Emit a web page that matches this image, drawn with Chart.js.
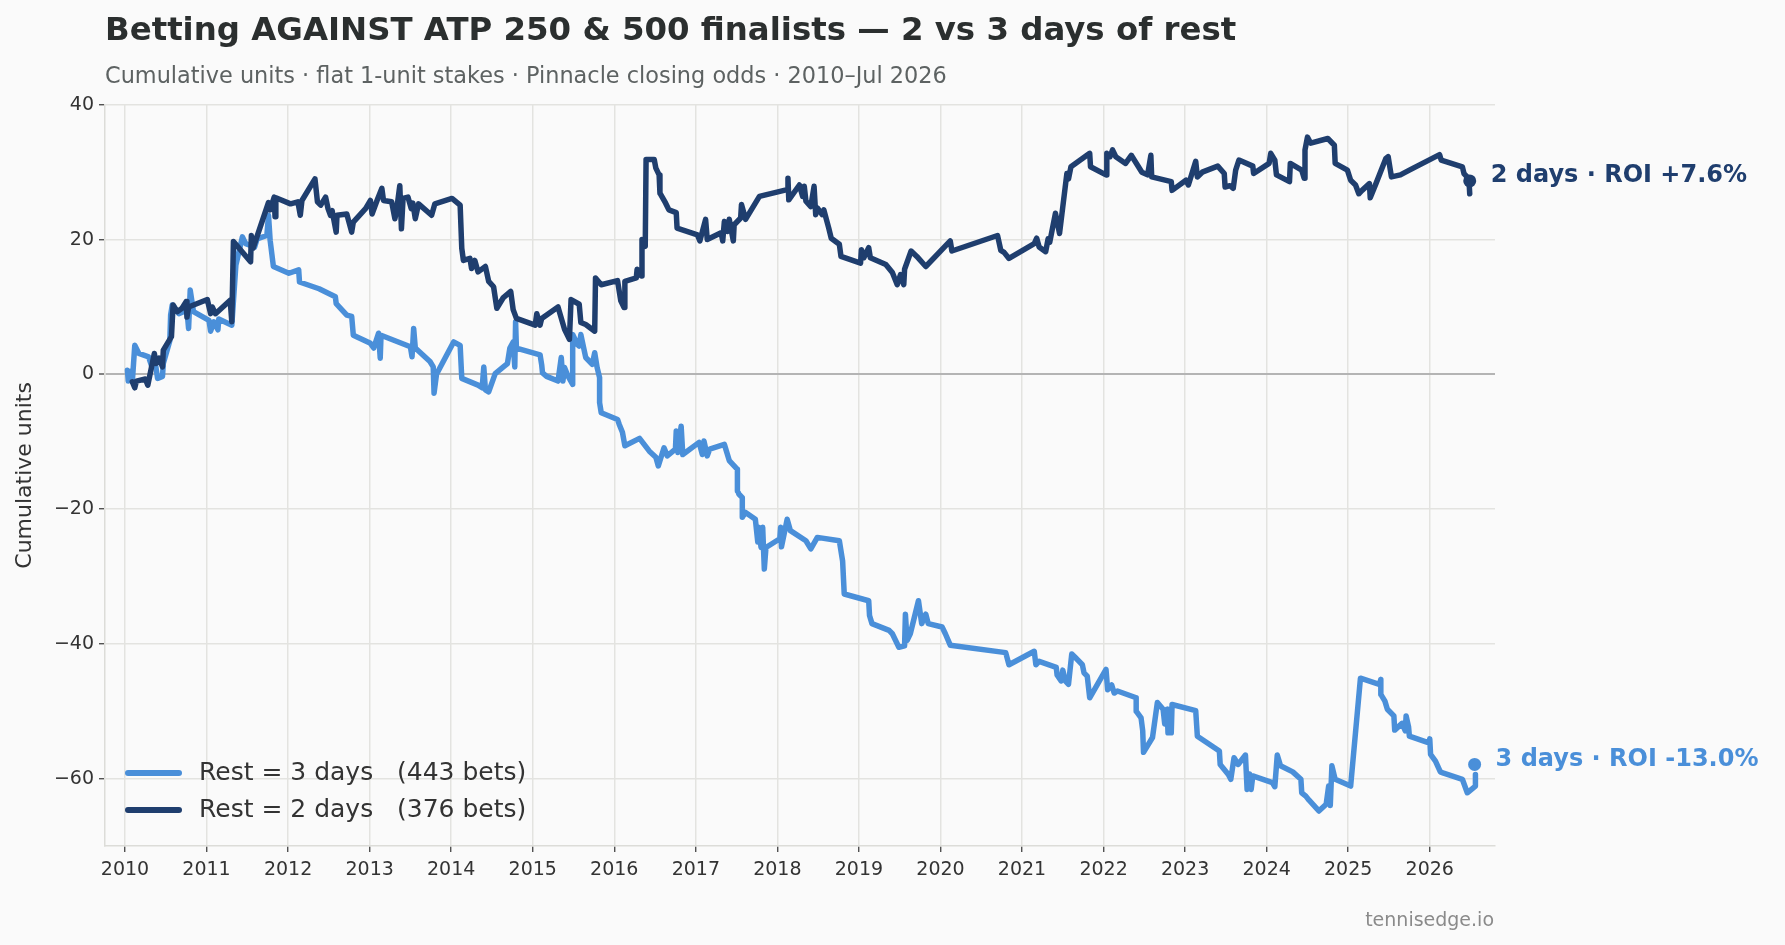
<!DOCTYPE html>
<html>
<head>
<meta charset="utf-8">
<script src="https://cdn.jsdelivr.net/npm/chart.js@4.4.1/dist/chart.umd.min.js"></script>
<style>
  html, body { margin: 0; padding: 0; background: #fafafa; }
  canvas { display: block; }
</style>
</head>
<body>
<canvas id="chartRest" width="1785" height="945"></canvas>
<script>
// cumulative units, x = decimal year
const threeDaysX = [
  2010.03, 2010.04, 2010.07, 2010.09, 2010.12, 2010.17, 2010.29, 2010.33, 2010.36, 2010.40,
  2010.46, 2010.47, 2010.55, 2010.56, 2010.58, 2010.66, 2010.76, 2010.78, 2010.80, 2010.84,
  2011.03, 2011.05, 2011.09, 2011.14, 2011.15, 2011.31, 2011.36, 2011.44, 2011.48, 2011.59,
  2011.62, 2011.74, 2011.76, 2011.78, 2011.82, 2012.01, 2012.13, 2012.14, 2012.38, 2012.58,
  2012.59, 2012.72, 2012.78, 2012.80, 2013.01, 2013.05, 2013.11, 2013.13, 2013.14, 2013.50,
  2013.52, 2013.54, 2013.56, 2013.74, 2013.78, 2013.79, 2013.82, 2014.03, 2014.11, 2014.13,
  2014.33, 2014.38, 2014.40, 2014.42, 2014.46, 2014.54, 2014.64, 2014.69, 2014.72, 2014.76,
  2014.78, 2014.79, 2014.80, 2015.09, 2015.11, 2015.12, 2015.17, 2015.31, 2015.35, 2015.37,
  2015.39, 2015.43, 2015.49, 2015.49, 2015.55, 2015.57, 2015.59, 2015.65, 2015.73, 2015.76,
  2015.79, 2015.82, 2015.82, 2015.84, 2016.04, 2016.06, 2016.10, 2016.13, 2016.31, 2016.43,
  2016.51, 2016.54, 2016.61, 2016.65, 2016.75, 2016.76, 2016.78, 2016.82, 2016.84, 2017.04,
  2017.08, 2017.10, 2017.14, 2017.17, 2017.35, 2017.41, 2017.51, 2017.51, 2017.53, 2017.57,
  2017.57, 2017.61, 2017.73, 2017.76, 2017.77, 2017.80, 2017.82, 2017.84, 2017.86, 2018.03,
  2018.04, 2018.05, 2018.10, 2018.12, 2018.16, 2018.35, 2018.41, 2018.49, 2018.76, 2018.80,
  2018.82, 2019.12, 2019.13, 2019.16, 2019.37, 2019.41, 2019.49, 2019.56, 2019.57, 2019.59,
  2019.63, 2019.73, 2019.77, 2019.82, 2019.85, 2020.02, 2020.06, 2020.12, 2020.80, 2020.84,
  2021.15, 2021.17, 2021.21, 2021.42, 2021.43, 2021.48, 2021.50, 2021.53, 2021.57, 2021.61,
  2021.66, 2021.74, 2021.76, 2021.80, 2021.83, 2022.03, 2022.05, 2022.10, 2022.13, 2022.17,
  2022.40, 2022.40, 2022.46, 2022.48, 2022.49, 2022.60, 2022.66, 2022.73, 2022.75, 2022.78,
  2022.79, 2022.83, 2022.84, 2023.13, 2023.15, 2023.42, 2023.43, 2023.53, 2023.56, 2023.60,
  2023.65, 2023.74, 2023.76, 2023.79, 2023.81, 2023.83, 2024.07, 2024.10, 2024.13, 2024.17,
  2024.32, 2024.42, 2024.43, 2024.48, 2024.52, 2024.64, 2024.73, 2024.76, 2024.78, 2024.80,
  2024.84, 2025.03, 2025.15, 2025.38, 2025.40, 2025.40, 2025.45, 2025.48, 2025.56, 2025.57,
  2025.66, 2025.70, 2025.71, 2025.74, 2025.75, 2025.99, 2026.00, 2026.01, 2026.07, 2026.13,
  2026.17, 2026.40, 2026.46, 2026.56, 2026.56
];
const threeDaysY = [
  0.6, -1.0, 0.4, -1.1, 4.3, 3.1, 2.6, 1.1, 2.6, -0.6,
  -0.3, 1.6, 5.0, 8.8, 10.3, 9.0, 9.5, 6.8, 12.5, 9.3,
  8.0, 6.4, 7.8, 6.6, 8.2, 7.3, 16.2, 20.4, 19.4, 18.9,
  20.1, 20.6, 23.6, 19.9, 16.0, 15.0, 15.5, 13.7, 12.7, 11.5,
  10.5, 8.8, 8.6, 5.8, 4.6, 3.9, 6.1, 2.4, 5.8, 4.1,
  2.6, 6.8, 3.9, 1.9, 1.1, -2.8, 0.0, 4.8, 4.3, -0.6,
  -1.6, -2.0, 1.1, -2.3, -2.6, 0.1, 1.1, 1.6, 3.9, 4.8,
  1.1, 7.8, 3.9, 2.9, 1.4, 0.2, -0.3, -1.0, 2.5, -1.0,
  1.0, -0.2, -1.5, 5.9, 4.4, 4.2, 5.9, 2.5, 1.5, 3.2,
  1.0, -0.5, -4.2, -5.7, -6.7, -7.4, -8.6, -10.6, -9.5, -11.4,
  -12.3, -13.6, -10.9, -12.1, -11.1, -8.4, -11.6, -7.7, -11.9, -10.1,
  -11.9, -9.9, -12.1, -11.1, -10.4, -12.8, -14.1, -17.3, -17.8, -18.3,
  -21.2, -20.5, -21.5, -24.9, -22.7, -25.7, -22.7, -28.9, -25.7, -24.4,
  -22.7, -25.6, -22.7, -21.5, -23.2, -24.7, -25.9, -24.2, -24.7, -27.7,
  -32.6, -33.6, -35.8, -37.0, -38.0, -38.5, -40.5, -40.3, -35.6, -39.5,
  -38.5, -33.6, -37.0, -35.6, -37.0, -37.5, -38.5, -40.2, -41.3, -43.1,
  -41.1, -43.1, -42.6, -43.5, -44.6, -45.5, -43.9, -45.5, -46.0, -41.5,
  -42.1, -43.1, -44.3, -44.8, -48.0, -43.8, -46.8, -46.1, -47.3, -47.0,
  -48.0, -50.0, -51.0, -52.9, -56.1, -53.9, -48.7, -49.7, -51.9, -49.7,
  -53.2, -53.2, -49.0, -49.9, -53.7, -55.9, -57.9, -59.4, -60.1, -56.9,
  -57.9, -56.5, -61.6, -59.3, -61.6, -59.6, -60.6, -61.2, -56.5, -58.1,
  -59.0, -60.1, -62.1, -62.6, -63.2, -64.8, -63.8, -61.1, -64.0, -58.1,
  -60.1, -61.1, -45.1, -46.0, -45.3, -47.5, -48.5, -49.7, -50.7, -52.8,
  -51.8, -52.9, -50.7, -52.3, -53.7, -54.7, -54.1, -56.4, -57.4, -59.0,
  -59.2, -60.1, -62.1, -61.1, -59.4
];

const twoDaysX = [
  2010.09, 2010.12, 2010.14, 2010.25, 2010.28, 2010.36, 2010.38, 2010.42, 2010.46, 2010.47,
  2010.57, 2010.59, 2010.64, 2010.70, 2010.75, 2010.76, 2010.78, 2011.01, 2011.05, 2011.07,
  2011.11, 2011.29, 2011.31, 2011.33, 2011.54, 2011.55, 2011.57, 2011.76, 2011.78, 2011.83,
  2011.84, 2011.85, 2012.03, 2012.12, 2012.15, 2012.17, 2012.33, 2012.36, 2012.40, 2012.46,
  2012.49, 2012.52, 2012.54, 2012.59, 2012.60, 2012.72, 2012.78, 2012.80, 2012.95, 2013.01,
  2013.03, 2013.10, 2013.15, 2013.17, 2013.27, 2013.31, 2013.33, 2013.37, 2013.39, 2013.41,
  2013.47, 2013.51, 2013.53, 2013.56, 2013.60, 2013.76, 2013.80, 2014.01, 2014.11, 2014.13,
  2014.15, 2014.23, 2014.25, 2014.29, 2014.33, 2014.42, 2014.46, 2014.52, 2014.56, 2014.64,
  2014.73, 2014.76, 2014.80, 2015.03, 2015.05, 2015.09, 2015.11, 2015.31, 2015.39, 2015.45,
  2015.47, 2015.57, 2015.59, 2015.65, 2015.76, 2015.77, 2015.84, 2016.04, 2016.08, 2016.12,
  2016.13, 2016.27, 2016.28, 2016.33, 2016.34, 2016.38, 2016.39, 2016.49, 2016.51, 2016.55,
  2016.56, 2016.63, 2016.67, 2016.76, 2016.77, 2017.02, 2017.05, 2017.12, 2017.14, 2017.31,
  2017.33, 2017.35, 2017.39, 2017.41, 2017.46, 2017.47, 2017.55, 2017.56, 2017.61, 2017.78,
  2018.12, 2018.13, 2018.14, 2018.27, 2018.31, 2018.33, 2018.35, 2018.41, 2018.45, 2018.47,
  2018.49, 2018.55, 2018.57, 2018.63, 2018.66, 2018.76, 2018.78, 2019.02, 2019.03, 2019.06,
  2019.12, 2019.14, 2019.33, 2019.41, 2019.47, 2019.51, 2019.55, 2019.56, 2019.64, 2019.71,
  2019.82, 2020.12, 2020.14, 2020.70, 2020.74, 2020.78, 2020.84, 2021.15, 2021.18, 2021.21,
  2021.29, 2021.32, 2021.34, 2021.41, 2021.46, 2021.55, 2021.57, 2021.60, 2021.83, 2021.84,
  2022.03, 2022.04, 2022.08, 2022.11, 2022.15, 2022.27, 2022.34, 2022.47, 2022.54, 2022.58,
  2022.59, 2022.83, 2022.84, 2023.01, 2023.04, 2023.13, 2023.15, 2023.21, 2023.40, 2023.48,
  2023.49, 2023.55, 2023.59, 2023.62, 2023.66, 2023.83, 2023.84, 2024.03, 2024.05, 2024.10,
  2024.12, 2024.28, 2024.29, 2024.43, 2024.46, 2024.47, 2024.50, 2024.54, 2024.75, 2024.83,
  2024.84, 2024.99, 2025.03, 2025.09, 2025.13, 2025.17, 2025.26, 2025.27, 2025.34, 2025.46,
  2025.49, 2025.53, 2025.64, 2025.75, 2026.12, 2026.14, 2026.40, 2026.42, 2026.48, 2026.49
];
const twoDaysY = [
  -1.1, -2.0, -1.0, -0.7, -1.6, 3.1, 1.6, 2.4, 1.1, 3.6,
  5.6, 10.3, 9.3, 9.8, 10.8, 8.5, 10.0, 11.1, 9.0, 10.0,
  9.0, 11.0, 7.8, 19.7, 16.7, 20.6, 18.7, 25.5, 24.4, 26.3,
  23.4, 26.2, 25.3, 25.6, 23.6, 25.8, 29.0, 25.6, 25.1, 26.3,
  24.6, 23.6, 24.3, 21.1, 23.6, 23.8, 21.1, 22.6, 24.6, 25.8,
  23.8, 26.1, 27.6, 25.8, 25.6, 23.1, 24.3, 28.0, 21.6, 26.1,
  26.3, 24.6, 25.4, 23.1, 25.3, 23.6, 25.3, 26.1, 25.1, 18.7,
  16.9, 17.2, 15.7, 16.9, 15.2, 16.0, 13.8, 13.0, 9.8, 11.4,
  12.3, 9.6, 8.3, 7.3, 9.0, 7.3, 8.3, 10.0, 6.7, 5.2,
  11.1, 10.4, 7.7, 7.4, 6.4, 14.3, 13.3, 13.9, 10.9, 9.9,
  13.8, 14.3, 15.6, 14.6, 20.0, 19.0, 31.9, 31.9, 30.6, 29.6,
  26.9, 25.4, 24.4, 24.0, 21.7, 20.7, 19.8, 23.0, 20.0, 21.0,
  19.8, 22.7, 21.2, 23.0, 19.8, 22.2, 23.2, 25.2, 23.0, 26.4,
  27.4, 29.1, 25.9, 28.1, 26.4, 27.9, 25.7, 24.9, 27.9, 23.7,
  24.7, 23.7, 24.4, 21.7, 20.2, 19.3, 17.5, 16.5, 18.5, 17.3,
  18.8, 17.3, 16.3, 15.1, 13.3, 14.8, 13.3, 15.6, 18.3, 17.5,
  16.0, 19.8, 18.3, 20.6, 18.4, 18.1, 17.2, 19.4, 20.2, 18.9,
  18.2, 20.1, 19.6, 23.9, 20.9, 29.8, 29.0, 30.8, 32.8, 30.8,
  29.6, 32.8, 32.3, 33.3, 32.3, 31.3, 32.5, 30.0, 29.6, 32.5,
  29.3, 28.6, 27.3, 28.8, 28.1, 31.6, 29.3, 30.0, 30.9, 29.8,
  27.8, 28.0, 27.6, 30.3, 31.8, 30.9, 29.8, 31.3, 32.8, 31.8,
  29.6, 28.6, 31.3, 30.3, 29.1, 33.3, 35.2, 34.3, 35.0, 34.0,
  31.3, 30.3, 28.8, 28.1, 26.8, 27.3, 28.3, 26.2, 28.3, 32.0,
  32.3, 29.3, 29.6, 30.3, 32.6, 31.8, 30.8, 29.8, 29.0, 26.8
];

// final markers and their captions
const endX = [2026.49, 2026.55];
const endY = [28.7, -57.9];
const endLabels = ['2 days \u00b7 ROI +7.6%', '3 days \u00b7 ROI -13.0%'];
const legendLabels = ['Rest = 3 days   (443 bets)', 'Rest = 2 days   (376 bets)'];

const yearTicks = [2010, 2011, 2012, 2013, 2014, 2015, 2016, 2017, 2018,
  2019, 2020, 2021, 2022, 2023, 2024, 2025, 2026];
const unitTicks = [-60, -40, -20, 0, 20, 40];

const LIGHT = '#4a8fd9';
const DARK = '#1f3e6e';
const FONT = '"DejaVu Sans", sans-serif';

const toPoints = (xs, ys) => xs.map((x, i) => ({ x: x, y: ys[i] }));

const decor = {
  id: 'decor',
  beforeDraw(chart) {
    const c = chart.ctx;
    c.save();
    c.fillStyle = '#fafafa';
    c.fillRect(0, 0, chart.width, chart.height);
    c.restore();
  },
  afterDraw(chart) {
    const c = chart.ctx;
    const xs = chart.scales.x;
    const ys = chart.scales.y;
    const area = chart.chartArea;
    c.save();
    c.textBaseline = 'middle';
    c.textAlign = 'left';

    c.fillStyle = '#2b2f2f';
    c.font = 'bold 32.4px ' + FONT;
    c.fillText('Betting AGAINST ATP 250 & 500 finalists \u2014 2 vs 3 days of rest', 105, 32);

    c.fillStyle = '#5d6262';
    c.font = '22.4px ' + FONT;
    c.fillText('Cumulative units \u00b7 flat 1-unit stakes \u00b7 Pinnacle closing odds \u00b7 2010\u2013Jul 2026', 105, 77);

    // y axis title
    c.save();
    c.translate(25, (area.top + area.bottom) / 2);
    c.rotate(-Math.PI / 2);
    c.textAlign = 'center';
    c.fillStyle = '#333333';
    c.font = '22px ' + FONT;
    c.fillText('Cumulative units', 0, 0);
    c.restore();

    // legend
    const legendColors = [LIGHT, DARK];
    const rows = [773, 810];
    c.font = '25px ' + FONT;
    legendLabels.forEach((txt, i) => {
      c.strokeStyle = legendColors[i];
      c.lineWidth = 6;
      c.lineCap = 'round';
      c.beginPath();
      c.moveTo(128, rows[i]);
      c.lineTo(179, rows[i]);
      c.stroke();
      c.fillStyle = '#333333';
      c.fillText(txt, 199, rows[i]);
    });

    // end captions
    const endColors = [DARK, LIGHT];
    c.font = 'bold 24px ' + FONT;
    endLabels.forEach((txt, i) => {
      c.fillStyle = endColors[i];
      c.fillText(txt, xs.getPixelForValue(endX[i]) + 21, ys.getPixelForValue(endY[i]) - 5);
    });

    c.fillStyle = '#8a8a8a';
    c.font = '19px ' + FONT;
    c.textAlign = 'right';
    c.fillText('tennisedge.io', 1494, 921);
    c.restore();
  }
};

const ctx = document.getElementById('chartRest').getContext('2d');
new Chart(ctx, {
  type: 'line',
  data: {
    datasets: [
      {
        data: [{ x: endX[0], y: endY[0] }],
        showLine: false,
        pointRadius: 6.5,
        pointBackgroundColor: DARK,
        pointBorderWidth: 0
      },
      {
        data: [{ x: endX[1], y: endY[1] }],
        showLine: false,
        pointRadius: 6.5,
        pointBackgroundColor: LIGHT,
        pointBorderWidth: 0
      },
      {
        label: legendLabels[1],
        data: toPoints(twoDaysX, twoDaysY),
        borderColor: DARK,
        borderWidth: 5.5,
        pointRadius: 0,
        tension: 0,
        borderJoinStyle: 'round',
        borderCapStyle: 'round'
      },
      {
        label: legendLabels[0],
        data: toPoints(threeDaysX, threeDaysY),
        borderColor: LIGHT,
        borderWidth: 5.5,
        pointRadius: 0,
        tension: 0,
        borderJoinStyle: 'round',
        borderCapStyle: 'round'
      }
    ]
  },
  options: {
    responsive: false,
    animation: false,
    devicePixelRatio: 1,
    layout: {
      padding: { left: 0, top: 104.8, right: 290, bottom: 0 }
    },
    plugins: {
      legend: { display: false },
      title: { display: false },
      tooltip: { enabled: false }
    },
    scales: {
      x: {
        type: 'linear',
        min: 2009.755,
        max: 2026.8,
        afterBuildTicks: (scale) => { scale.ticks = yearTicks.map(v => ({ value: v })); },
        afterFit: (scale) => { scale.height = 99; },
        grid: {
          color: '#e3e3e0',
          lineWidth: 1.5,
          tickColor: '#333333',
          tickLength: 6,
          tickWidth: 1.2
        },
        border: { color: '#dcdcd8', width: 1.5 },
        ticks: {
          color: '#333333',
          font: { family: FONT, size: 19 },
          padding: 7,
          maxRotation: 0,
          callback: (v) => String(v)
        }
      },
      y: {
        min: -70,
        max: 40,
        afterBuildTicks: (scale) => { scale.ticks = unitTicks.map(v => ({ value: v })); },
        afterFit: (scale) => { scale.width = 105; },
        grid: {
          color: (c) => (c.tick && c.tick.value === 0 ? '#b4b4b4' : '#e3e3e0'),
          lineWidth: (c) => (c.tick && c.tick.value === 0 ? 2 : 1.5),
          tickColor: '#333333',
          tickLength: 6,
          tickWidth: 1.2
        },
        border: { color: '#dcdcd8', width: 1.5 },
        ticks: {
          color: '#333333',
          font: { family: FONT, size: 19 },
          padding: 5,
          callback: (v) => (v < 0 ? '\u2212' + Math.abs(v) : String(v))
        }
      }
    }
  },
  plugins: [decor]
});
</script>
</body>
</html>
